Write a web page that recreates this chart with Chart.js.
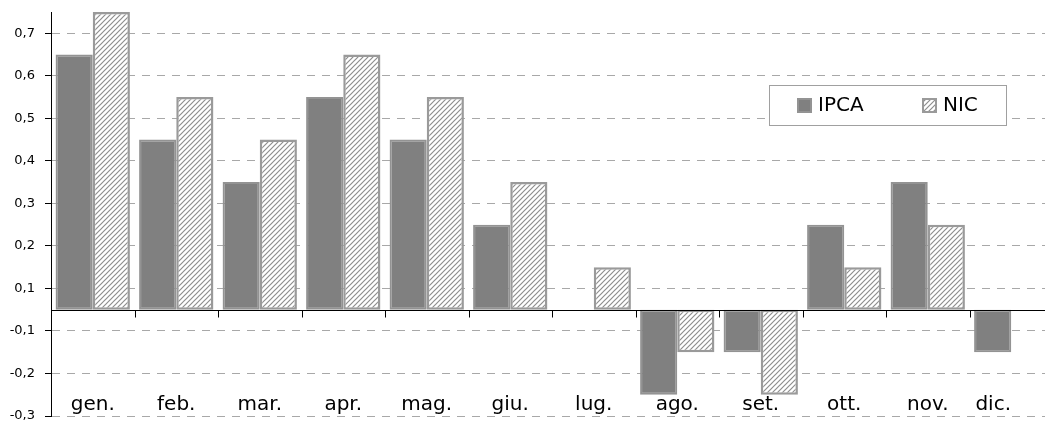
<!DOCTYPE html>
<html>
<head>
<meta charset="utf-8">
<script src="https://cdn.jsdelivr.net/npm/chart.js@4/dist/chart.umd.min.js"></script>
<style>
html,body{margin:0;padding:0;background:#fff;overflow:hidden;width:1045px;height:421px}
#wrap{position:relative;width:1053px;height:421px}
</style>
</head>
<body>
<div id="wrap"><canvas id="c" width="1053" height="421"></canvas></div>
<script>
// Categories and series (monthly change, baseline at 0)
const months = ['gen.','feb.','mar.','apr.','mag.','giu.','lug.','ago.','set.','ott.','nov.','dic.'];
const ipca = [0.6, 0.4, 0.3, 0.5, 0.4, 0.2, 0.0, -0.2, -0.1, 0.2, 0.3, -0.1];
const nic  = [0.7, 0.5, 0.4, 0.6, 0.5, 0.3, 0.1, -0.1, -0.2, 0.1, 0.2, 0.0];
// Axis gridlines as drawn in the original (labels skip zero)
const yTickValues = [-0.25, -0.15, -0.05, 0.05, 0.15, 0.25, 0.35, 0.45, 0.55, 0.65];
const yTickLabels = ['-0,3', '-0,2', '-0,1', '0,1', '0,2', '0,3', '0,4', '0,5', '0,6', '0,7'];
const seriesNames = ['IPCA', 'NIC'];

function makeHatch(){
  const s = 5;
  const c = document.createElement('canvas');
  c.width = s; c.height = s;
  const x = c.getContext('2d');
  x.fillStyle = '#ffffff';
  x.fillRect(0, 0, s, s);
  x.strokeStyle = '#8e8e8e';
  x.lineWidth = 1.2;
  x.beginPath();
  x.moveTo(-1, 1); x.lineTo(1, -1);
  x.moveTo(0, s); x.lineTo(s, 0);
  x.moveTo(s - 1, s + 1); x.lineTo(s + 1, s - 1);
  x.stroke();
  return c;
}
const ctx0 = document.getElementById('c').getContext('2d');
const hatch = ctx0.createPattern(makeHatch(), 'repeat');

const overlay = {
  id: 'overlay',
  afterDatasetsDraw(chart){
    const {ctx, chartArea: a, scales: {x, y}} = chart;
    const y0 = Math.round(y.getPixelForValue(0)) + 0.5;
    ctx.save();
    ctx.strokeStyle = '#000';
    ctx.lineWidth = 1;
    ctx.beginPath();
    ctx.moveTo(a.left, y0); ctx.lineTo(a.right, y0);
    for (let i = 0; i < months.length; i++){
      const xb = Math.round(x.getPixelForValue(i + 0.5)) + 0.5;
      ctx.moveTo(xb, y0); ctx.lineTo(xb, y0 + 7);
    }
    ctx.stroke();
    ctx.fillStyle = '#000';
    ctx.font = '20px "DejaVu Sans"';
    ctx.textAlign = 'center';
    ctx.textBaseline = 'alphabetic';
    months.forEach((m, i) => {
      const w = ctx.measureText(m).width;
      const cx = Math.min(x.getPixelForValue(i), 1011 - w / 2);
      ctx.fillText(m, cx, 410);
    });
    ctx.restore();
  },
  afterDraw(chart){
    const {ctx} = chart;
    ctx.save();
    // legend box
    const bx = 769.5, by = 85.5, bw = 237, bh = 40;
    ctx.fillStyle = '#fff';
    ctx.fillRect(bx, by, bw, bh);
    ctx.strokeStyle = '#a0a0a0';
    ctx.lineWidth = 1;
    ctx.strokeRect(bx, by, bw, bh);
    const items = chart.data.datasets;
    const sx = [797, 922];
    ctx.font = '20px "DejaVu Sans"';
    ctx.textBaseline = 'middle';
    ctx.textAlign = 'left';
    items.forEach((ds, i) => {
      ctx.fillStyle = ds.backgroundColor;
      ctx.fillRect(sx[i], 98, 15, 15);
      ctx.strokeStyle = ds.borderColor;
      ctx.lineWidth = 2;
      ctx.strokeRect(sx[i] + 1, 99, 13, 13);
      ctx.fillStyle = '#000';
      ctx.fillText(ds.label, sx[i] + 21, 106);
    });
    ctx.restore();
  }
};

new Chart(ctx0, {
  type: 'bar',
  data: {
    labels: months,
    datasets: [
      { label: seriesNames[0], data: ipca, backgroundColor: '#808080', borderColor: '#939393', borderWidth: 2, borderSkipped: false },
      { label: seriesNames[1], data: nic, backgroundColor: hatch, borderColor: '#9a9a9a', borderWidth: 2.5, borderSkipped: false }
    ]
  },
  options: {
    responsive: false,
    animation: false,
    layout: { padding: { left: 0, top: 12, right: 0, bottom: 5 } },
    datasets: { bar: { categoryPercentage: 0.89, barPercentage: 1.0 } },
    plugins: { legend: { display: false }, tooltip: { enabled: false } },
    scales: {
      x: { display: false },
      y: {
        min: -0.25, max: 0.7,
        afterBuildTicks: s => { s.ticks = yTickValues.map(v => ({ value: v })); },
        afterFit: s => { s.width = 51; s.paddingTop = 0; s.paddingBottom = 0; },
        grid: { color: '#a8a8a8', lineWidth: 1, tickColor: '#000', tickLength: 6, drawTicks: true },
        border: { display: true, color: '#000', width: 1, dash: [8, 7] },
        ticks: {
          padding: 10,
          color: '#000',
          font: { family: '"DejaVu Sans", sans-serif', size: 13 },
          callback: (v) => { const k = yTickValues.findIndex(t => Math.abs(t - v) < 1e-9); return k >= 0 ? yTickLabels[k] : ''; }
        }
      }
    }
  },
  plugins: [overlay]
});
</script>
</body>
</html>
